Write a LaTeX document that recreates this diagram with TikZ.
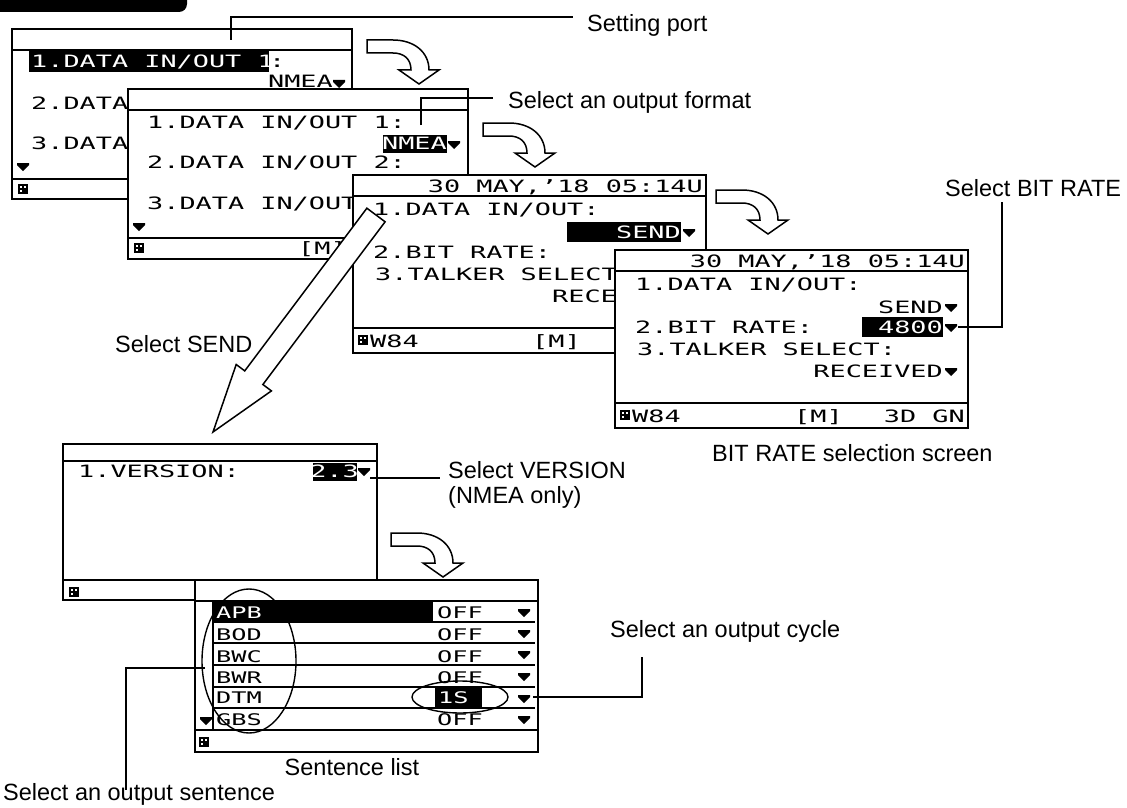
\documentclass[tikz,border=0pt]{standalone}
\usepackage{fontspec}
\setmainfont{Liberation Sans}
\newfontfamily\lcdfam[FakeStretch=1.58]{DejaVu Sans Mono}
\newcommand\lcdA{\lcdfam\fontsize{17}{17}\selectfont}
\newcommand\lcdB{\lcdfam\fontsize{16}{16}\selectfont}
\begin{document}
\begin{tikzpicture}[x=1pt,y=-1pt,
  scr/.style={draw=black,line width=1.8pt,fill=white},
  sep/.style={line width=1.8pt},
  rowsep/.style={line width=1.4pt},
  lcd/.style={font=\lcdA,inner sep=0pt,anchor=base west},
  lcdr/.style={lcd,anchor=base east},
  lcds/.style={font=\lcdB,inner sep=0pt,anchor=base west},
  inv/.style={text=white},
  lbl/.style={font=\fontsize{23.5}{28}\selectfont,inner sep=0pt,anchor=base west},
  callout/.style={line width=1.4pt},
  hollow/.style={draw=black,line width=1.5pt,fill=white,line join=miter},
  ring/.style={line width=1.4pt},
  dtri/.pic={\fill (-6,0) -- (6,0) -- (6,2) -- (0,8) -- (-6,2) -- cycle;},
  icon/.pic={\fill (0,0) rectangle (10,10); \fill[white] (2,2) rectangle (4,4); \fill[white] (6,2) rectangle (8,4); \fill[white] (2,6) rectangle (4,8);},
  turn/.pic={\draw[hollow] (0,0) -- (26,0) .. controls (47,0) and (62,12) .. (62,30) -- (72,30) -- (52,44) -- (32,30) -- (44,30) .. controls (44,19) and (37,13) .. (26,13) -- (0,13) -- cycle;}
]
\useasboundingbox[fill=white] (0,0) rectangle (1127,808);
% top tab
\fill[rounded corners=8pt] (-20,-20) rectangle (187,12);

% ---------- Screen 1 ----------
\draw[scr] (12,29) rectangle (352,199);
\draw[sep] (12,50) -- (352,50);
\draw[sep] (12,179) -- (352,179);
\fill (29,50) rectangle (269,72);
\node[lcd,inv] (s1a) at (31,67) {1.DATA IN/OUT 1};
\node[lcd] (s1b) at (269,67) {:};
\node[lcdr] (s1c) at (333,88) {NMEA};
\pic at (339,80) {dtri};
\node[lcd] (s1d) at (31,110) {2.DATA};
\node[lcd] (s1e) at (31,149) {3.DATA};
\pic at (23,163) {dtri};
\pic at (18,184) {icon};
\coordinate (c1a) at (231,40);
\coordinate (c1b) at (573,17);
\draw[callout] (c1a) |- (c1b);
\pic at (367,40) {turn};

% ---------- Screen 2 ----------
\draw[scr] (128,89) rectangle (468,259);
\draw[sep] (128,110) -- (468,110);
\draw[sep] (128,238) -- (468,238);
\node[lcd] (s2a) at (147,128) {1.DATA IN/OUT 1:};
\fill (383,135) rectangle (447,153);
\node[lcdr,inv] (s2b) at (447,149) {NMEA};
\pic at (454,141) {dtri};
\node[lcd] (s2c) at (147,168) {2.DATA IN/OUT 2:};
\node[lcd] (s2d) at (147,209) {3.DATA IN/OUT};
\pic at (139,223) {dtri};
\pic at (134,243) {icon};
\node[lcd] (s2m) at (298,254) {[M]};
\coordinate (c2a) at (421,125);
\coordinate (c2b) at (493,98);
\draw[callout] (c2a) |- (c2b);
\pic at (483,123) {turn};

% ---------- Screen 3 ----------
\begin{scope}[shift={(353,175)}]
\draw[scr] (0,0) rectangle (353,178);
\draw[sep] (0,21) -- (353,21);
\draw[sep] (0,153) -- (353,153);
\node[lcdr] (s3date) at (350,17) {30 MAY,’18 05:14U};
\node[lcd] (s3r1) at (20,40) {1.DATA IN/OUT:};
\fill (214,47) rectangle (328,67);
\node[lcdr,inv] (s3send) at (328,63) {SEND};
\pic at (336,54) {dtri};
\node[lcd] (s3r2) at (20,83) {2.BIT RATE:};
\node[lcd] (s3r3) at (22,105) {3.TALKER SELECT};
\node[lcd] (s3rec) at (199,127) {RECE};
\pic at (5,160) {icon};
\node[lcd] (s3w) at (17,172) {W84};
\node[lcd] (s3m) at (179,172) {[M]};
\end{scope}
\pic at (716,190) {turn};

% ---------- Screen 4 ----------
\begin{scope}[shift={(615,250)}]
\draw[scr] (0,0) rectangle (353,178);
\draw[sep] (0,21) -- (353,21);
\draw[sep] (0,153) -- (353,153);
\node[lcdr] (s4date) at (350,17) {30 MAY,’18 05:14U};
\node[lcd] (s4r1) at (20,40) {1.DATA IN/OUT:};
\node[lcdr] (s4send) at (328,63) {SEND};
\pic at (336,54) {dtri};
\node[lcd] (s4r2) at (20,83) {2.BIT RATE:};
\fill (247,67) rectangle (328,87);
\node[lcdr,inv] (s4bit) at (328,83) {4800};
\pic at (336,74) {dtri};
\coordinate (c3a) at (343,77);
\node[lcd] (s4r3) at (22,105) {3.TALKER SELECT:};
\node[lcdr] (s4rec) at (328,127) {RECEIVED};
\pic at (336,118) {dtri};
\pic at (5,160) {icon};
\node[lcd] (s4w) at (17,172) {W84};
\node[lcd] (s4m) at (179,172) {[M]};
\node[lcdr] (s4gn) at (350,172) {3D GN};
\end{scope}
\coordinate (c3b) at (1002,202);
\draw[callout] (c3a) -| (c3b);

% ---------- Select SEND arrow ----------
\draw[hollow] (366.9,208.2) -- (244.7,370.9) -- (236.2,364.5) -- (213,432)
  -- (271.4,390.9) -- (262.9,384.5) -- (385.1,221.8) -- cycle;

% ---------- Screen 5 ----------
\draw[scr] (63,444) rectangle (377,600);
\draw[sep] (63,461) -- (377,461);
\draw[sep] (63,580) -- (377,580);
\node[lcd] (s5r1) at (78,477) {1.VERSION:};
\fill (313,463) rectangle (357,481);
\node[lcdr,inv] (s5v) at (359,477) {2.3};
\pic at (364,468) {dtri};
\pic at (69,587) {icon};
\coordinate (c4a) at (370,478);
\coordinate (c4b) at (440,478);
\draw[callout] (c4a) -- (c4b);
\pic at (391,533) {turn};

% ---------- Screen 6 ----------
\draw[scr] (195,580) rectangle (538,752);
\draw[sep] (195,601) -- (538,601);
\draw[sep] (195,730) -- (538,730);
\draw[rowsep] (213,601) -- (213,730);
\foreach \yy in {622,643,665,687,708} \draw[rowsep] (213,\yy) -- (535,\yy);
\fill (213,601) rectangle (433,621);
\node[lcds,inv] (r1) at (216,618) {APB};
\node[lcds] (r2) at (216,640) {BOD};
\node[lcds] (r3) at (216,662) {BWC};
\node[lcds] (r4) at (216,683) {BWR};
\node[lcds] (r5) at (216,703) {DTM};
\node[lcds] (r6) at (216,725) {GBS};
\node[lcds] (o1) at (437,618) {OFF};
\node[lcds] (o2) at (437,640) {OFF};
\node[lcds] (o3) at (437,662) {OFF};
\node[lcds] (o4) at (437,683) {OFF};
\fill (435,688) rectangle (482,707);
\node[lcds,inv] (o5) at (438,703) {1S};
\node[lcds] (o6) at (437,725) {OFF};
\foreach \yy in {609,630,651,673,695,716} \pic at (524,\yy) {dtri};
\pic at (206,717) {dtri};
\pic at (199,737) {icon};
\draw[ring] (249,661) ellipse [x radius=47pt, y radius=72pt];
\draw[ring] (460,697) ellipse [x radius=48pt, y radius=16pt];
\coordinate (c5a) at (533,697);
\coordinate (c5b) at (642,657);
\draw[callout] (c5a) -| (c5b);
\coordinate (c6a) at (205,668);
\coordinate (c6b) at (126,790);
\draw[callout] (c6a) -| (c6b);

% ---------- labels ----------
\node[lbl] (lport) at (587,32) {Setting port};
\node[lbl] (lfmt) at (508,108) {Select an output format};
\node[lbl] (lbit) at (945,196) {Select BIT RATE};
\node[lbl] (lsend) at (115,352) {Select SEND};
\node[lbl] (lbits) at (712,461) {BIT RATE selection screen};
\node[lbl] (lver1) at (448,478) {Select VERSION};
\node[lbl] (lver2) at (448,503) {(NMEA only)};
\node[lbl] (lcyc) at (610,637) {Select an output cycle};
\node[lbl,anchor=base] (lsl) at (352,775) {Sentence list};
\node[lbl] (lsen) at (3,800) {Select an output sentence};
\end{tikzpicture}
\end{document}
